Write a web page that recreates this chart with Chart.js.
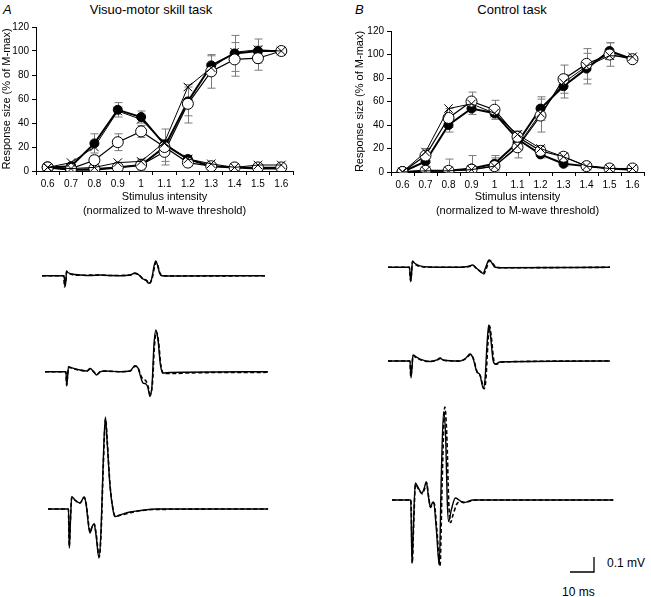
<!DOCTYPE html>
<html><head><meta charset="utf-8">
<script src="https://cdn.jsdelivr.net/npm/chart.js@4.4.1/dist/chart.umd.min.js"></script>
<style>
html,body{margin:0;padding:0;background:#fff;}
body{width:651px;height:597px;position:relative;overflow:hidden;font-family:"Liberation Sans",Arial,sans-serif;color:#000;}
canvas{position:absolute;}
.t{position:absolute;white-space:nowrap;line-height:16px;}
</style></head><body>
<div class="t" style="left:3px;top:2px;font-size:13px;font-style:italic;">A</div>
<div class="t" style="left:0;width:302px;top:2px;font-size:13px;text-align:center;">Visuo-motor skill task</div>
<div class="t" style="left:355px;top:2px;font-size:13px;font-style:italic;">B</div>
<div class="t" style="left:412px;width:200px;top:2px;font-size:13px;text-align:center;">Control task</div>
<div class="t" style="left:607px;top:555px;font-size:12px;">0.1 mV</div>
<div class="t" style="left:562px;top:584px;font-size:12px;">10 ms</div>

<canvas id="cA" width="325" height="220" style="left:0;top:0"></canvas>
<canvas id="cB" width="298" height="220" style="left:353px;top:0"></canvas>
<canvas id="tA1" width="230" height="50" style="left:42px;top:250px"></canvas>
<canvas id="tA2" width="230" height="85" style="left:45px;top:320px"></canvas>
<canvas id="tA3" width="225" height="160" style="left:48px;top:405px"></canvas>
<canvas id="tB1" width="225" height="40" style="left:388px;top:250px"></canvas>
<canvas id="tB2" width="225" height="80" style="left:388px;top:315px"></canvas>
<canvas id="tB3" width="225" height="178" style="left:392px;top:400px"></canvas>

<script>
// ---------- recruitment-curve data ----------
const intensities = ['0.6','0.7','0.8','0.9','1','1.1','1.2','1.3','1.4','1.5','1.6'];
const yTicks = [0,20,40,60,80,100,120];

// Panel A: Visuo-motor skill task
const A_H_filled = [3, 4, 23, 51, 45, 22, 10, 4, 3, 2, 2];
const A_H_open   = [3, 2, 9, 24, 33, 20, 7, 4, 3, 3, 3];
const A_H_cross  = [3, 7, 20, 50, 43, 23, 10, 6, 3, 5, 5];
const A_M_filled = [3, 1, 1, 3, 5, 20, 58, 88, 98, 100, 100];
const A_M_open   = [3, 1, 2, 3, 5, 16, 56, 83, 93, 94, 100];
const A_M_cross  = [3, 2, 3, 7, 8, 24, 70, 86, 99, 101, 100];
const A_err_H_filled = [1, 2, 8, 6, 5, 4, 3, 2, 1, 1, 1];
const A_err_H_open   = [1, 2, 4, 7, 5, 15, 3, 2, 1, 1, 1];
const A_err_M_filled = [1, 1, 1, 2, 4, 6, 12, 8, 15, 10, 1];
const A_err_M_open   = [1, 1, 2, 2, 5, 8, 16, 14, 14, 10, 1];

// Panel B: Control task
const B_H_filled = [0, 9, 40, 54, 50, 28, 15, 7, 5, 3, 2];
const B_H_open   = [0, 14, 46, 60, 53, 30, 18, 13, 5, 3, 3];
const B_H_cross  = [0, 17, 54, 58, 50, 32, 20, 13, 5, 3, 3];
const B_M_filled = [0, 1, 1, 3, 7, 25, 54, 73, 88, 103, 96];
const B_M_open   = [0, 1, 1, 2, 5, 21, 48, 79, 92, 100, 96];
const B_M_cross  = [0, 1, 1, 2, 5, 22, 50, 76, 90, 99, 98];
const B_err_H_filled = [1, 4, 6, 5, 5, 4, 3, 2, 1, 1, 1];
const B_err_H_open   = [1, 6, 8, 8, 8, 5, 4, 3, 1, 1, 1];
const B_err_M_filled = [1, 1, 1, 2, 5, 5, 10, 10, 13, 7, 2];
const B_err_M_open   = [1, 1, 10, 12, 9, 9, 14, 12, 13, 10, 2];

// ---------- raw traces: [time (ms), amplitude (mV)] ----------
const A1_solid = [[0,0],[9.2,0],[9.6,-0.069],[10.0,-0.029],[10.2,0.031],[10.8,0.021],[12.5,0.011],[15.8,0.005],[20,0.001],[24.2,0.005],[28.3,0.001],[32.5,0],[36.7,0.005],[38.8,0.018],[40.4,0.005],[42.1,-0.022],[43.3,-0.029],[44.2,-0.049],[45,-0.049],[45.8,-0.015],[46.7,0.065],[47.4,0.098],[48.1,0.071],[49.0,0.018],[49.9,0],[53.3,-0.002],[92.9,0]];
const A1_dashed = [[0,0],[9.0,0],[9.4,-0.075],[9.9,-0.035],[10.3,0.028],[11,0.018],[12.5,0.008],[16,0.003],[22,0.004],[30,0.001],[36.5,0.004],[38.6,0.015],[40.6,0.003],[42.3,-0.026],[43.8,-0.034],[44.5,-0.052],[45.2,-0.045],[46,-0.01],[46.9,0.06],[47.6,0.09],[48.3,0.065],[49.2,0.015],[50.2,0],[60,-0.002],[92.9,0]];
const A2_solid = [[0,0],[8.75,0],[9.04,-0.095],[9.38,-0.042],[9.79,0.033],[11.25,0.025],[14.6,0.011],[17.5,0.005],[18.75,0.021],[20.4,-0.002],[21.5,-0.022],[22.9,-0.002],[25,0.005],[31.25,0],[35.4,0.005],[37.5,0.04],[38.75,0.025],[40,-0.042],[40.8,-0.075],[42.1,-0.082],[42.9,-0.108],[43.75,-0.166],[44.6,-0.089],[45.4,0.178],[46.25,0.278],[47.1,0.211],[48.1,0.045],[49.2,-0.009],[52.1,-0.005],[92.9,0]];
const A2_dashed = [[0,0],[8.7,0],[9.0,-0.09],[9.35,-0.04],[9.8,0.03],[11.3,0.022],[14.6,0.01],[17.5,0.004],[18.8,0.018],[20.4,-0.003],[21.5,-0.02],[23,0],[25,0.004],[31.3,0],[35.4,0.004],[37.6,0.037],[38.9,0.02],[40.2,-0.035],[41,-0.05],[42,-0.06],[43,-0.1],[43.9,-0.15],[44.8,-0.07],[45.6,0.17],[46.4,0.265],[47.3,0.2],[48.3,0.04],[49.5,-0.012],[53,-0.012],[60,-0.008],[92.9,-0.004]];
const A3_solid = [[0,0],[8.54,0],[8.88,-0.26],[9.38,-0.073],[9.88,0.082],[11.25,0.06],[13.3,0.04],[15.1,0.08],[15.8,0.04],[17.5,-0.16],[18.3,-0.12],[19.2,-0.1],[20,-0.173],[21.25,-0.327],[22.1,-0.14],[22.9,0.26],[23.9,0.613],[24.6,0.46],[25.8,0.16],[27.1,-0.007],[27.9,-0.051],[30,-0.04],[34.2,-0.02],[38.3,-0.01],[45.3,0],[91.7,0]];
const A3_dashed = [[0,0],[8.5,0],[8.85,-0.25],[9.35,-0.07],[9.9,0.078],[11.3,0.058],[13.3,0.038],[15.1,0.078],[15.9,0.036],[17.6,-0.155],[18.4,-0.118],[19.3,-0.1],[20.1,-0.17],[21.35,-0.32],[22.2,-0.13],[23,0.27],[24,0.6],[24.7,0.45],[25.9,0.15],[27.2,-0.01],[28,-0.048],[30,-0.042],[34.2,-0.025],[38.3,-0.012],[45.3,-0.003],[91.7,0]];
const B1_solid = [[0,0],[8.96,0],[9.46,-0.096],[9.79,-0.051],[10.2,0.042],[11.25,0.025],[13.3,0.009],[17.5,0.002],[30,0],[33.3,0.005],[35.3,0.015],[36.7,-0.005],[38.3,-0.025],[39.6,-0.04],[40.6,-0.005],[42.1,0.049],[43.3,0.029],[44.6,0],[46.7,-0.003],[92.5,0]];
const B1_dashed = [[0,0],[8.9,0],[9.4,-0.09],[9.75,-0.05],[10.2,0.038],[11.3,0.02],[13.3,0.006],[17.5,0],[30,0],[33.3,0.004],[35.5,0.012],[37,-0.01],[38.6,-0.03],[39.9,-0.045],[40.9,-0.01],[42.4,0.045],[43.6,0.027],[45,0],[47,-0.003],[92.5,0]];
const B2_solid = [[0,0],[9.17,0],[9.58,-0.113],[10,-0.047],[10.4,0.04],[11.7,0.027],[13.3,0.013],[17.5,-0.003],[20.4,0.007],[21.7,0.02],[22.9,0.007],[30,0],[32.5,0.02],[34.2,0.047],[35.4,0.02],[37,-0.071],[38.3,-0.093],[39.7,-0.18],[40.4,-0.127],[41.25,0.107],[41.96,0.24],[42.7,0.173],[43.75,0.007],[44.6,-0.02],[46.7,-0.007],[92.5,0]];
const B2_dashed = [[0,0],[9.1,0],[9.5,-0.105],[9.95,-0.045],[10.4,0.035],[11.7,0.024],[13.3,0.01],[17.5,-0.004],[20.4,0.006],[21.8,0.017],[23,0.005],[30,0],[32.6,0.018],[34.4,0.043],[35.6,0.015],[37.2,-0.075],[38.5,-0.1],[40,-0.185],[40.8,-0.12],[41.6,0.11],[42.3,0.235],[43,0.165],[44.1,0.003],[45,-0.022],[47.5,-0.006],[92.5,0]];
const B3_solid = [[0,0],[7.83,0],[8.33,-0.42],[8.88,-0.2],[9.71,0.113],[10.96,0.08],[12.5,0.047],[13.46,0.08],[14.3,0.122],[15.1,0.033],[15.96,-0.045],[16.8,-0.02],[17.3,-0.013],[18.5,-0.2],[19.7,-0.433],[20.5,0.133],[21.5,0.589],[22.4,0.4],[23.0,0],[23.6,-0.144],[24.7,-0.067],[26.4,0.013],[28,0],[29.7,-0.018],[33.9,0],[92.2,0]];
const B3_dashed = [[0,0],[7.9,0],[8.45,-0.42],[9.0,-0.18],[9.8,0.105],[11,0.075],[12.6,0.042],[13.6,0.075],[14.4,0.115],[15.2,0.03],[16.1,-0.05],[16.9,-0.025],[17.5,-0.02],[18.7,-0.2],[20,-0.44],[20.9,0.12],[22,0.62],[22.9,0.4],[23.6,0],[24.4,-0.15],[25.4,-0.1],[26.9,-0.03],[28.5,-0.01],[30,-0.015],[35,0],[92.2,0]];

// scale bar values
const scaleBarMs = 10;
const scaleBarMv = 0.1;

// ---------- common settings ----------
Chart.defaults.font.family = '"Liberation Sans", Arial, sans-serif';
Chart.defaults.color = '#000';
Chart.defaults.animation = false;

const errorBarPlugin = {
  id: 'errbars',
  beforeDatasetsDraw(chart) {
    const {ctx} = chart; const x = chart.scales.x, y = chart.scales.y;
    ctx.save(); ctx.strokeStyle = '#7a7a7a'; ctx.lineWidth = 1;
    chart.data.datasets.forEach(ds => {
      if (!ds.errors) return;
      ds.data.forEach((v, i) => {
        const e = ds.errors[i]; if (!e) return;
        const px = Math.round(x.getPixelForValue(i)) + 0.5;
        const y1 = y.getPixelForValue(v + e), y2 = y.getPixelForValue(Math.max(0, v - e));
        ctx.beginPath();
        ctx.moveTo(px, y1); ctx.lineTo(px, y2);
        ctx.moveTo(px - 4, y1); ctx.lineTo(px + 4, y1);
        ctx.moveTo(px - 4, y2); ctx.lineTo(px + 4, y2);
        ctx.stroke();
      });
    });
    ctx.restore();
  }
};

function styleFilled(data, err) {
  return {data, errors: err, borderColor:'#000', borderWidth:2, pointStyle:'circle', pointRadius:4.5,
          pointBackgroundColor:'#000', pointBorderColor:'#000', pointBorderWidth:1, tension:0};
}
function styleOpen(data, err) {
  return {data, errors: err, borderColor:'#000', borderWidth:1.2, pointStyle:'circle', pointRadius:5.5,
          pointBackgroundColor:'#fff', pointBorderColor:'#000', pointBorderWidth:1, tension:0};
}
function styleCross(data) {
  return {data, borderColor:'#000', borderWidth:1, pointStyle:'crossRot', pointRadius:6,
          pointBackgroundColor:'#fff', pointBorderColor:'#000', pointBorderWidth:1, tension:0};
}

function recruitChart(id, sets, padTop, padRight, axisW, xAxisH) {
  return new Chart(document.getElementById(id), {
    type: 'line',
    data: { labels: intensities, datasets: sets },
    plugins: [errorBarPlugin],
    options: {
      responsive:false, animation:false,
      layout:{padding:{top:padTop, right:padRight, left:0, bottom:0}},
      plugins:{legend:{display:false}, tooltip:{enabled:false}},
      scales:{
        x:{ type:'category', offset:true,
            grid:{display:true, drawOnChartArea:false, drawTicks:true, tickLength:4, color:'#000', offset:true},
            border:{display:true, color:'#000', width:1},
            ticks:{font:{size:10}, padding:3, maxRotation:0, autoSkip:false},
            title:{display:true, text:['Stimulus intensity','(normalized to M-wave threshold)'], font:{size:11, lineHeight:1.25}, padding:{top:0,bottom:2}},
            afterFit(s){ s.height = xAxisH; } },
        y:{ min:0, max:120, afterBuildTicks(s){ s.ticks = yTicks.map(v=>({value:v})); },
            grid:{display:true, drawOnChartArea:false, drawTicks:true, tickLength:4, color:'#000'},
            border:{display:true, color:'#000', width:1},
            ticks:{font:{size:10}, padding:3},
            title:{display:true, text:'Response size (% of M-max)', font:{size:11}, padding:{top:0,bottom:0}},
            afterFit(s){ s.width = axisW; } }
      }
    }
  });
}

recruitChart('cA', [
  styleCross(A_H_cross), styleCross(A_M_cross),
  styleOpen(A_H_open, A_err_H_open), styleOpen(A_M_open, A_err_M_open),
  styleFilled(A_H_filled, A_err_H_filled), styleFilled(A_M_filled, A_err_M_filled)
], 27, 32, 36, 49);

recruitChart('cB', [
  styleCross(B_H_cross), styleCross(B_M_cross),
  styleOpen(B_H_open, B_err_H_open), styleOpen(B_M_open, B_err_M_open),
  styleFilled(B_H_filled, B_err_H_filled), styleFilled(B_M_filled, B_err_M_filled)
], 31, 3, 38, 48);

// ---------- trace charts ----------
const PX_PER_MS = 2.4, PX_PER_MV = 150;
const scaleBarPlugin = {
  id:'scalebar',
  afterDraw(chart) {
    if (!chart.options.plugins.scalebar || !chart.options.plugins.scalebar.show) return;
    const {ctx} = chart; const x = chart.scales.x, y = chart.scales.y;
    const cx = 202, cy = 172; // corner of the bar inside this canvas
    const w = x.getPixelForValue(scaleBarMs) - x.getPixelForValue(0);
    const h = y.getPixelForValue(0) - y.getPixelForValue(scaleBarMv);
    ctx.save(); ctx.strokeStyle='#000'; ctx.lineWidth=1.3;
    ctx.beginPath(); ctx.moveTo(cx - w, cy); ctx.lineTo(cx, cy); ctx.lineTo(cx, cy - h); ctx.stroke();
    ctx.restore();
  }
};
function traceChart(id, solid, dashed, basePx, showBar) {
  const cv = document.getElementById(id);
  const W = cv.width, H = cv.height;
  return new Chart(cv, {
    type:'line',
    data:{ datasets:[
      {data: dashed.map(p=>({x:p[0], y:p[1]})), borderColor:'#000', borderWidth:1.6, borderDash:[4,2.5], pointRadius:0, cubicInterpolationMode:'monotone'},
      {data: solid.map(p=>({x:p[0], y:p[1]})), borderColor:'#000', borderWidth:1.4, pointRadius:0, cubicInterpolationMode:'monotone'}
    ]},
    plugins:[scaleBarPlugin],
    options:{
      responsive:false, animation:false, clip:false,
      layout:{padding:0},
      plugins:{legend:{display:false}, tooltip:{enabled:false}, scalebar:{show:!!showBar}},
      scales:{
        x:{type:'linear', display:false, min:0, max:W/PX_PER_MS},
        y:{type:'linear', display:false, min:-(H-basePx)/PX_PER_MV, max:basePx/PX_PER_MV}
      }
    }
  });
}
traceChart('tA1', A1_solid, A1_dashed, 25.7);
traceChart('tA2', A2_solid, A2_dashed, 51.7);
traceChart('tA3', A3_solid, A3_dashed, 104);
traceChart('tB1', B1_solid, B1_dashed, 17.3);
traceChart('tB2', B2_solid, B2_dashed, 46);
traceChart('tB3', B3_solid, B3_dashed, 100, true);
</script>
</body></html>
